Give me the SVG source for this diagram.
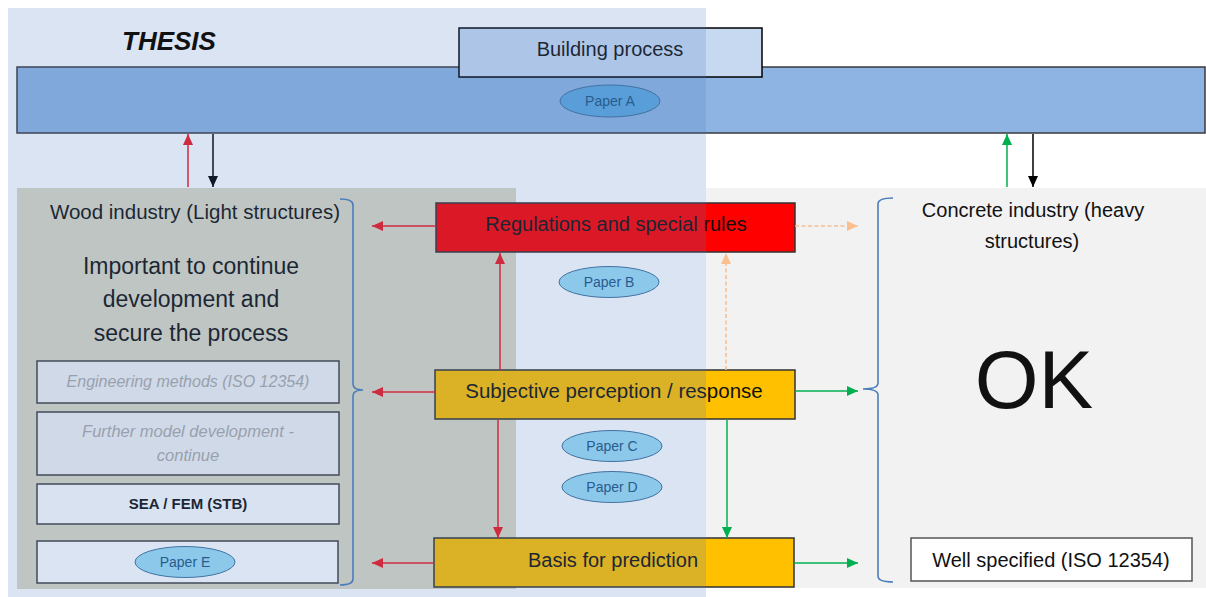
<svg xmlns="http://www.w3.org/2000/svg" width="1206" height="597" viewBox="0 0 1206 597">
<style>
text{font-family:"Liberation Sans",Arial,sans-serif;fill:#111;text-anchor:middle}
.box{stroke:#333;stroke-width:1.5}
.inner{stroke:#404040;stroke-width:1.5}
.paper{fill:#9CDCF5;stroke:#41719C;stroke-width:1}
.ptxt{font-size:14px;fill:#1F5582}
.grey{font-style:italic;fill:#ababab}
.brace{fill:none;stroke:#4A7EBB;stroke-width:1.6}
.c{fill:none;stroke-width:1.5}
.red{stroke:#F01820}
.grn{stroke:#00B050}
.blk{stroke:#000}
.org{stroke:#F9BF8F;stroke-dasharray:4 2.5}
</style>
<defs>
<marker id="aRed" markerWidth="11" markerHeight="10" refX="11" refY="5" orient="auto" markerUnits="userSpaceOnUse"><path d="M0,0 L11,5 L0,10 z" fill="#F01820"/></marker>
<marker id="aGrn" markerWidth="11" markerHeight="10" refX="11" refY="5" orient="auto" markerUnits="userSpaceOnUse"><path d="M0,0 L11,5 L0,10 z" fill="#00B050"/></marker>
<marker id="aBlk" markerWidth="11" markerHeight="10" refX="11" refY="5" orient="auto" markerUnits="userSpaceOnUse"><path d="M0,0 L11,5 L0,10 z" fill="#000"/></marker>
<marker id="aOrg" markerWidth="11" markerHeight="10" refX="11" refY="5" orient="auto" markerUnits="userSpaceOnUse"><path d="M0,0 L11,5 L0,10 z" fill="#F9BF8F"/></marker>
</defs>
<rect x="0" y="0" width="1206" height="597" fill="#fff"/>

<g id="building-process">
<rect x="17" y="67" width="1188" height="66" fill="#8EB4E3" stroke="#3a3a3a" stroke-width="1.5"/>
<rect x="459" y="28" width="303" height="49" fill="#C6D9F1" stroke="#000" stroke-width="1.5"/>
<text x="610" y="56" font-size="20">Building process</text>
</g>
<g id="paper-a">
<ellipse cx="610" cy="101" rx="50" ry="16" fill="#5DA8E0" stroke="#41719C" stroke-width="1"/>
<text class="ptxt" x="610" y="106">Paper A</text>
</g>

<g id="wood-industry">
<rect x="17" y="188" width="499" height="401" fill="#DDD9C3"/>
<text x="195" y="219" font-size="20.5">Wood industry (Light structures)</text>
<text x="191" y="274" font-size="23">Important to continue</text>
<text x="191" y="307" font-size="23">development and</text>
<text x="191" y="341" font-size="23">secure the process</text>
<path class="brace" d="M340,199 Q353,199 353,205 L353,384 Q353,390 363,390 Q353,390 353,396 L353,579 Q353,585 340,585"/>
</g>
<g id="engineering-methods">
<rect class="inner" x="37" y="361" width="302" height="42" fill="#F2F2F2"/>
<text class="grey" x="188" y="387" font-size="16">Engineering methods (ISO 12354)</text>
</g>
<g id="further-model">
<rect class="inner" x="37" y="412" width="302" height="63" fill="#F2F2F2"/>
<text class="grey" x="188" y="437" font-size="16.5">Further model development -</text>
<text class="grey" x="188" y="461" font-size="16.5">continue</text>
</g>
<g id="sea-fem">
<rect class="inner" x="37" y="484" width="302" height="40" fill="#FDFDFD"/>
<text x="188" y="509" font-size="15" font-weight="bold">SEA / FEM (STB)</text>
</g>
<g id="paper-e">
<rect class="inner" x="37" y="541" width="301" height="42" fill="#fff"/>
<ellipse class="paper" cx="185" cy="562" rx="50" ry="15.5"/>
<text class="ptxt" x="185" y="567" font-size="15">Paper E</text>
</g>

<g id="concrete-industry">
<rect x="706" y="188" width="500" height="400" fill="#F2F2F2"/>
<text x="1033" y="217" font-size="20">Concrete industry (heavy</text>
<text x="1032" y="248" font-size="20">structures)</text>
<text x="1034" y="408" font-size="82">OK</text>
<path class="brace" d="M893,198 Q878,198 878,204 L878,383 Q878,389 863,389 Q878,389 878,395 L878,576 Q878,582 893,582"/>
</g>
<g id="well-specified">
<rect x="911" y="538" width="281" height="43" fill="#fff" stroke="#555" stroke-width="1.5"/>
<text x="1051" y="567" font-size="20">Well specified (ISO 12354)</text>
</g>

<g id="regulations">
<rect class="box" x="436" y="203" width="359" height="49" fill="#FF0000"/>
<text x="616" y="231" font-size="20">Regulations and special rules</text>
</g>
<g id="subjective">
<rect class="box" x="435" y="370" width="360" height="49" fill="#FFC000"/>
<text x="614" y="398" font-size="20.5">Subjective perception / response</text>
</g>
<g id="basis">
<rect class="box" x="434" y="538" width="360" height="49" fill="#FFC000"/>
<text x="613" y="567" font-size="20">Basis for prediction</text>
</g>
<g id="paper-b">
<ellipse class="paper" cx="609" cy="282" rx="50" ry="15.5"/>
<text class="ptxt" x="609" y="287">Paper B</text>
</g>
<g id="paper-c">
<ellipse class="paper" cx="612" cy="446" rx="50" ry="15.5"/>
<text class="ptxt" x="612" y="451">Paper C</text>
</g>
<g id="paper-d">
<ellipse class="paper" cx="612" cy="487" rx="50" ry="15.5"/>
<text class="ptxt" x="612" y="492">Paper D</text>
</g>

<g id="connectors">
<path class="c red" d="M436,226 H372" marker-end="url(#aRed)"/>
<path class="c red" d="M435,392 H372" marker-end="url(#aRed)"/>
<path class="c red" d="M434,563 H372" marker-end="url(#aRed)"/>
<path class="c red" d="M500,370 V253" marker-end="url(#aRed)"/>
<path class="c red" d="M498,420 V538" marker-end="url(#aRed)"/>
<path class="c org" d="M726,370 V253" marker-end="url(#aOrg)"/>
<path class="c org" d="M795,226 H858" marker-end="url(#aOrg)"/>
<path class="c grn" d="M795,391 H858" marker-end="url(#aGrn)"/>
<path class="c grn" d="M727,419 V538" marker-end="url(#aGrn)"/>
<path class="c grn" d="M794,563 H858" marker-end="url(#aGrn)"/>
<path class="c red" d="M188,187 V134" marker-end="url(#aRed)"/>
<path class="c blk" d="M213,134 V187" marker-end="url(#aBlk)"/>
<path class="c grn" d="M1007,187 V134" marker-end="url(#aGrn)"/>
<path class="c blk" d="M1033,134 V187" marker-end="url(#aBlk)"/>
</g>

<g id="thesis">
<rect x="8" y="8" width="698" height="589" fill="#4A76BE" fill-opacity="0.2"/>
<text x="169" y="50" font-size="26" font-weight="bold" font-style="italic" fill="#000">THESIS</text>
</g>
</svg>
